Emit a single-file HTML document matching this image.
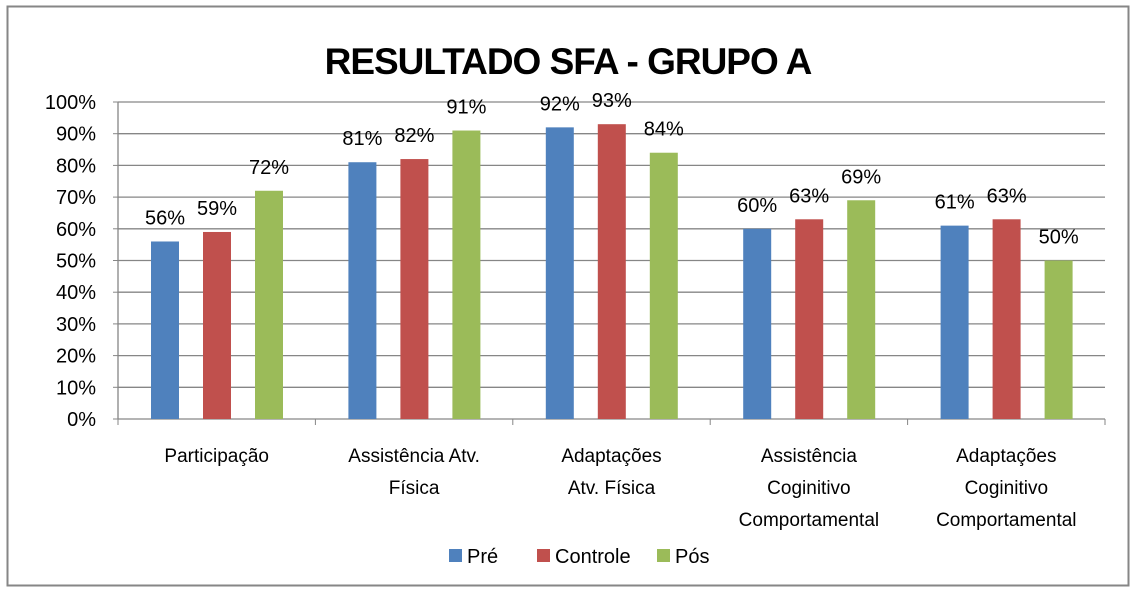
<!DOCTYPE html>
<html><head><meta charset="utf-8">
<style>
html,body{margin:0;padding:0;background:#fff;}
svg text{font-family:"Liberation Sans",sans-serif;fill:#000;}
</style></head>
<body>
<svg id="chart" width="1136" height="592" xmlns="http://www.w3.org/2000/svg">
<rect x="7.5" y="6.5" width="1121" height="579" fill="#fff" stroke="#868686" stroke-width="2"/>
<text x="568" y="74" text-anchor="middle" font-size="37" font-weight="bold" letter-spacing="-1">RESULTADO SFA - GRUPO A</text>
<g id="grid"></g><g id="bars"></g><g id="labels"></g><g id="legend"></g>
</svg>
<script>
const categories=[["Participação"],["Assistência Atv.","Física"],["Adaptações","Atv. Física"],["Assistência","Coginitivo","Comportamental"],["Adaptações","Coginitivo","Comportamental"]];
const seriesNames=["Pré","Controle","Pós"];
const colors=["#4f81bd","#c0504d","#9bbb59"];
const pre=[56,81,92,60,61];
const controle=[59,82,93,63,63];
const pos=[72,91,84,69,50];
const yTicks=[0,10,20,30,40,50,60,70,80,90,100];
const series=[pre,controle,pos];
const NS="http://www.w3.org/2000/svg";
const x0=118,x1=1105,y0=419,y1=102;
const catW=(x1-x0)/categories.length;
function y(v){return y0-(v/100)*(y0-y1);}
function bx(c,s){return x0+c*catW+33+s*52;}
function mk(tag,attrs,parent){const e=document.createElementNS(NS,tag);for(const k in attrs)e.setAttribute(k,attrs[k]);parent.appendChild(e);return e;}
const grid=document.getElementById('grid'),bars=document.getElementById('bars'),labels=document.getElementById('labels'),legend=document.getElementById('legend');
yTicks.forEach(t=>{
 if(t>0){const l=mk('line',{x1:x0,x2:x1,y1:y(t),y2:y(t),stroke:'#868686','stroke-width':1.3},grid);
 
 }
 const tx=mk('text',{x:x0-22,y:y(t)+7,'text-anchor':'end','font-size':20},grid);tx.textContent=t+'%';
 
 
 const tk=mk('line',{x1:x0-5,x2:x0,y1:y(t),y2:y(t),stroke:'#868686'},grid);
 
 
});
const ax=mk('line',{x1:x0,x2:x0,y1:y1,y2:y0,stroke:'#868686','stroke-width':1.3},grid);


const xa=mk('line',{x1:x0,x2:x1,y1:y0,y2:y0,stroke:'#868686','stroke-width':1.3},grid);


for(let c=0;c<=categories.length;c++){const t=mk('line',{x1:x0+c*catW,x2:x0+c*catW,y1:y0,y2:y0+6,stroke:'#868686'},grid);
 
 }
categories.forEach((cat,c)=>{
 series.forEach((s,si)=>{
  const r=mk('rect',{x:bx(c,si),y:y(s[c]),width:28,height:y0-y(s[c]),fill:colors[si]},bars);
  
  
  const t=mk('text',{x:bx(c,si)+14,y:y(s[c])-17,'text-anchor':'middle','font-size':20},labels);t.textContent=s[c]+'%';
  
  
 });
 cat.forEach((line,li)=>{
  const t=mk('text',{x:x0+c*catW+catW/2,y:462+li*32,'text-anchor':'middle','font-size':19},labels);t.textContent=line;
  
  
 });
});
const lx=[449,537,657];
seriesNames.forEach((n,i)=>{
 const r=mk('rect',{x:lx[i],y:549,width:13,height:13,fill:colors[i]},legend);
 
 
 const t=mk('text',{x:lx[i]+18,y:563,'font-size':20},legend);t.textContent=n;
 
 
});
</script>
</body></html>
